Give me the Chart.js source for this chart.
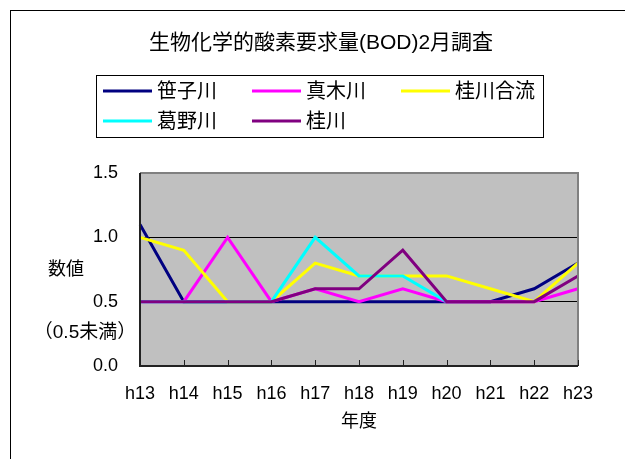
<!DOCTYPE html>
<html lang="ja">
<head>
<meta charset="utf-8">
<title>BOD 2月調査</title>
<script src="https://cdn.jsdelivr.net/npm/chart.js@4/dist/chart.umd.min.js"></script>
<style>
  html, body { margin: 0; padding: 0; background: #fff; }
  #wrap { width: 625px; height: 459px; }
</style>
</head>
<body>
<div id="wrap"><canvas id="myChart" width="625" height="459"></canvas></div>
<script>
const years = ["h13", "h14", "h15", "h16", "h17", "h18", "h19", "h20", "h21", "h22", "h23"];
const sasagoValues = [1.1, 0.5, 0.5, 0.5, 0.5, 0.5, 0.5, 0.5, 0.5, 0.6, 0.8];
const makiValues = [0.5, 0.5, 1.0, 0.5, 0.6, 0.5, 0.6, 0.5, 0.5, 0.5, 0.6];
const katsuraGouryuValues = [1.0, 0.9, 0.5, 0.5, 0.8, 0.7, 0.7, 0.7, 0.6, 0.5, 0.8];
const kazunoValues = [0.5, 0.5, 0.5, 0.5, 1.0, 0.7, 0.7, 0.5, null, null, null];
const katsuraValues = [0.5, 0.5, 0.5, 0.5, 0.6, 0.6, 0.9, 0.5, 0.5, 0.5, 0.7];
const yTicks = [0, 0.5, 1.0, 1.5];

const chartTitle = "生物化学的酸素要求量(BOD)2月調査";
const yTitle = "数値";
const yNote = "（0.5未満）";
const xTitle = "年度";

const FONT = "'Liberation Sans', 'Noto Sans CJK JP', sans-serif";

const series = [
  { label: "笹子川", data: sasagoValues, color: "#000080" },
  { label: "真木川", data: makiValues, color: "#ff00ff" },
  { label: "桂川合流", data: katsuraGouryuValues, color: "#ffff00" },
  { label: "葛野川", data: kazunoValues, color: "#00ffff" },
  { label: "桂川", data: katsuraValues, color: "#800080" },
];

// excel style frame: gray plot, borders, inside ticks, texts and legend box
const excelFrame = {
  id: "excelFrame",
  beforeDraw(chart) {
    const { ctx, chartArea: a } = chart;
    ctx.save();
    ctx.fillStyle = "#fff";
    ctx.fillRect(0, 0, chart.width, chart.height);
    ctx.strokeStyle = "#000";
    ctx.lineWidth = 1;
    ctx.strokeRect(10.5, 10.5, 800, 800);
    ctx.fillStyle = "#c0c0c0";
    ctx.fillRect(a.left, a.top, a.right - a.left, a.bottom - a.top);
    ctx.restore();
  },
  afterDraw(chart) {
    const { ctx, chartArea: a } = chart;
    const x = chart.scales.x;
    ctx.save();
    // plot border
    ctx.strokeStyle = "#808080";
    ctx.lineWidth = 2;
    ctx.beginPath();
    ctx.moveTo(a.left, a.top);
    ctx.lineTo(a.right, a.top);
    ctx.lineTo(a.right, a.bottom);
    ctx.stroke();
    ctx.strokeStyle = "#222";
    ctx.beginPath();
    ctx.moveTo(a.left, a.top);
    ctx.lineTo(a.left, a.bottom);
    ctx.lineTo(a.right, a.bottom);
    ctx.stroke();
    // inside tick marks
    ctx.lineWidth = 1;
    x.ticks.forEach((t, i) => {
      const px = Math.round(x.getPixelForTick(i)) + 0.5;
      ctx.beginPath();
      ctx.moveTo(px, a.bottom);
      ctx.lineTo(px, a.bottom - 6);
      ctx.stroke();
    });

    ctx.fillStyle = "#000";
    ctx.textBaseline = "middle";
    ctx.textAlign = "center";
    ctx.font = "21px " + FONT;
    ctx.fillText(chartTitle, 321, 43);
    ctx.font = "18px " + FONT;
    ctx.fillText(yTitle, 66, 270);
    ctx.font = "19px " + FONT;
    ctx.fillText(yNote, 85, 333);
    ctx.font = "18px " + FONT;
    ctx.fillText(xTitle, (a.left + a.right) / 2, 422);

    // legend
    ctx.strokeStyle = "#000";
    ctx.strokeRect(96.5, 75.5, 447, 62);
    ctx.textAlign = "left";
    ctx.font = "20px " + FONT;
    chart.data.datasets.forEach((ds, i) => {
      const lx = 103 + (i % 3) * 149;
      const ly = 91 + Math.floor(i / 3) * 30;
      ctx.strokeStyle = ds.borderColor;
      ctx.lineWidth = 3;
      ctx.beginPath();
      ctx.moveTo(lx, ly);
      ctx.lineTo(lx + 49, ly);
      ctx.stroke();
      ctx.fillText(ds.label, lx + 54, ly + 1);
    });
    ctx.restore();
  },
};

const chartConfig = {
  type: "line",
  data: {
    labels: years,
    datasets: series.map((s, i) => ({
      label: s.label,
      data: s.data,
      borderColor: s.color,
      backgroundColor: s.color,
      borderWidth: 3,
      pointRadius: 0,
      tension: 0,
      spanGaps: false,
      order: series.length - i,
    })),
  },
  options: {
    responsive: false,
    animation: false,
    layout: { padding: { top: 173, left: 0, right: 47, bottom: 0 } },
    plugins: {
      legend: { display: false },
      title: { display: false },
      tooltip: { enabled: false },
    },
    scales: {
      x: {
        offset: false,
        grid: { display: false, drawTicks: false },
        border: { display: false },
        ticks: {
          color: "#000",
          font: { family: FONT, size: 18 },
          padding: 17,
          maxRotation: 0,
          autoSkip: false,
        },
        afterFit(scale) {
          scale.height = 93;
        },
      },
      y: {
        min: 0,
        max: 1.5,
        afterBuildTicks(scale) {
          scale.ticks = yTicks.map((v) => ({ value: v }));
        },
        grid: {
          drawTicks: false,
          lineWidth: 1,
          color: (c) => (c.tick && (c.tick.value === 0.5 || c.tick.value === 1.0) ? "#000" : "rgba(0,0,0,0)"),
        },
        border: { display: false },
        ticks: {
          color: "#000",
          font: { family: FONT, size: 18 },
          padding: 22,
          callback: (v) => Number(v).toFixed(1),
        },
        afterFit(scale) {
          scale.width = 140;
        },
      },
    },
  },
  plugins: [excelFrame],
};

// eslint-disable-next-line
const myChart = new Chart(document.getElementById("myChart"), chartConfig);
</script>
</body>
</html>
